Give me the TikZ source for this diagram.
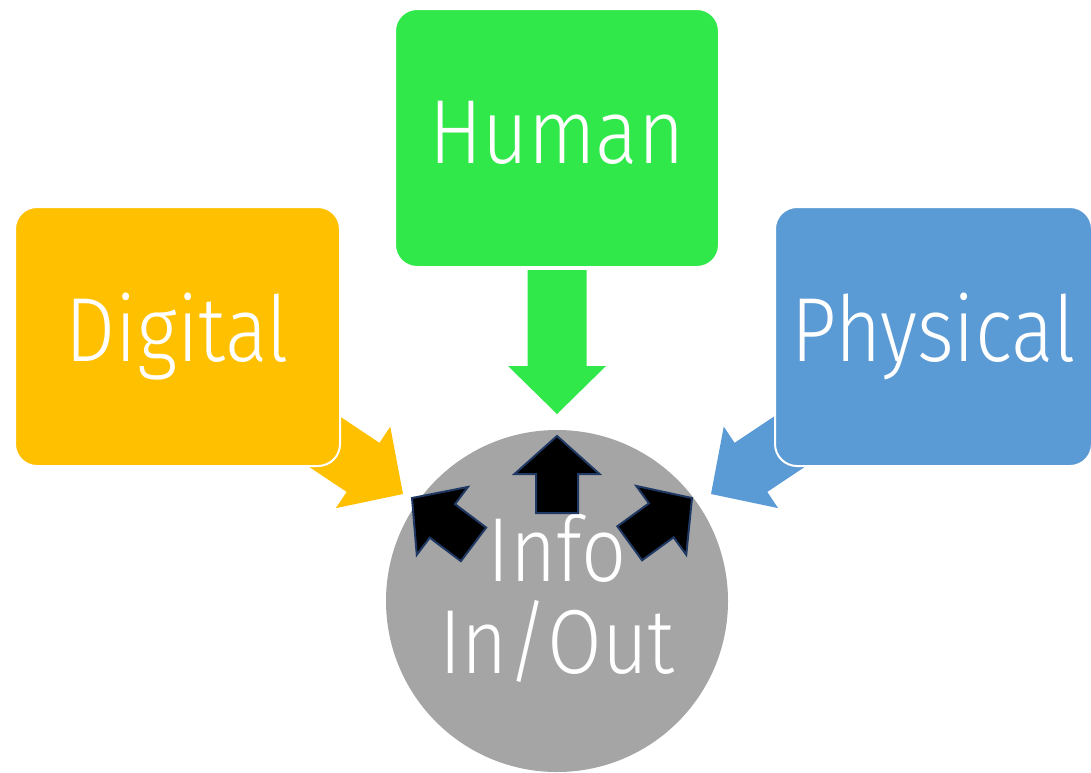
\documentclass[tikz,border=0pt]{standalone}
\usepackage{fontspec}
\IfFontExistsTF{Fira Sans Light}{\setmainfont{Fira Sans Light}[FakeStretch=0.87]}{\setmainfont{Liberation Sans}[FakeStretch=0.9]}
\newcommand\bigfont{\fontsize{91pt}{92pt}\selectfont}
\definecolor{cOrange}{HTML}{FFC000}
\definecolor{cGreen}{HTML}{30E84A}
\definecolor{cBlue}{HTML}{5B9BD5}
\definecolor{cGray}{HTML}{A5A5A5}
\definecolor{cNavy}{HTML}{1F3864}
\tikzset{
  box/.style={rectangle, rounded corners=22pt, draw=white, line width=2pt, text=white,
    font=\bigfont, text height=63pt, text depth=13pt, inner sep=0pt},
  bigarrow/.pic={\path[pic actions] (0,0) -- (-49,-48) -- (-29.5,-48) -- (-29.5,-144) -- (29.5,-144) -- (29.5,-48) -- (49,-48) -- cycle;},
  smallarrow/.pic={\path[pic actions] (0,0) -- (-42.5,-38) -- (-21,-38) -- (-21,-77) -- (21,-77) -- (21,-38) -- (42.5,-38) -- cycle;},
  blackarrow/.style={fill=black, draw=cNavy, line width=2pt}
}
\begin{document}
\begin{tikzpicture}[x=1pt,y=-1pt]
\useasboundingbox (0,0) rectangle (1091,772);
% coloured block arrows (behind boxes)
\pic[fill=cGreen] at (557,414) {bigarrow};
\pic[fill=cOrange, rotate=56.3] at (403,494) {bigarrow};
\pic[fill=cBlue, rotate=-56.3] at (711,494) {bigarrow};
% boxes
\node[box, fill=cOrange, minimum width=325pt, minimum height=259pt] (digital) at (177.5,336.5) {Digital};
\node[box, fill=cGreen, minimum width=324pt, minimum height=258pt] (human) at (557,138) {Human};
\node[box, fill=cBlue, minimum width=317pt, minimum height=259pt] (physical) at (933.5,336.5) {Physical};
% circle
\node[circle, fill=cGray, minimum size=342pt, inner sep=0pt, text=white, font=\bigfont,
  align=center, text height=155pt, text depth=11pt] (info) at (557,601) {Info\\In/Out};
% black arrows
\pic[blackarrow, rotate=180] at (557,436) {smallarrow};
\pic[blackarrow, rotate=-127] at (412,498) {smallarrow};
\pic[blackarrow, rotate=126] at (692,498) {smallarrow};
\end{tikzpicture}
\end{document}
